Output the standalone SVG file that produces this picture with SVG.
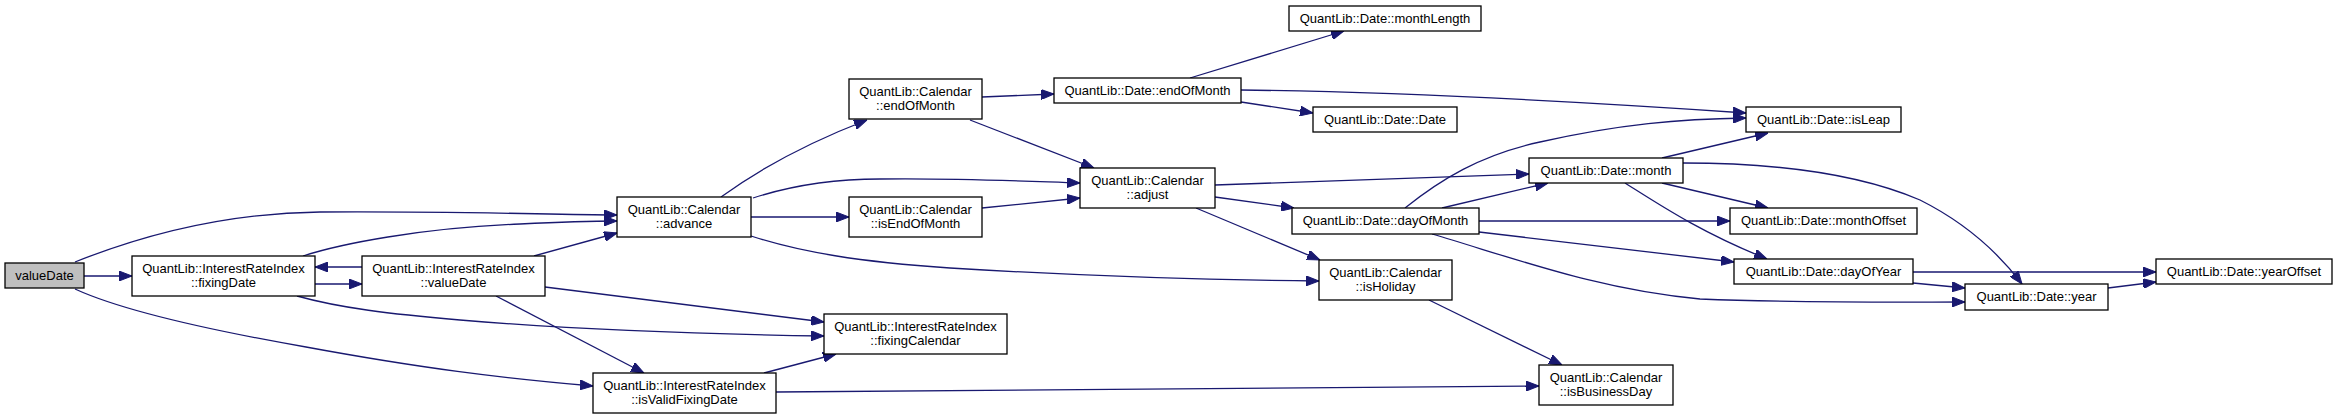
<svg xmlns="http://www.w3.org/2000/svg" width="2337" height="419" viewBox="0 0 2337 419">
<style>
.n rect{fill:#ffffff;stroke:#000000;stroke-width:1.3}
.n.root rect{fill:#bfbfbf}
.n text{font-family:"Liberation Sans",Arial,sans-serif;font-size:13px;fill:#000000;text-anchor:middle}
.e path{fill:none;stroke:#191970;stroke-width:1.3;marker-end:url(#ah)}
</style>
<defs>
<marker id="ah" viewBox="0 0 13 10" refX="13" refY="5" markerWidth="13" markerHeight="10" markerUnits="userSpaceOnUse" orient="auto">
<path d="M0,0 L13,5 L0,10 z" fill="#191970" stroke="#191970" stroke-width="1"/>
</marker>
</defs>
<rect width="2337" height="419" fill="#ffffff"/>
<g id="edges" class="e">
<path d="M84,276 L132,276"/>
<path d="M75,262 C120,244 210,213 320,212 C430,211 530,214 617,215"/>
<path d="M303,256 C340,244 420,228 520,224 C560,222 590,221 617,221"/>
<path d="M534,256 L617,233"/>
<path d="M315,284 L362,284"/>
<path d="M362,267 L315,267"/>
<path d="M297,296 C340,308 390,314 460,320 C580,330 700,334 824,336"/>
<path d="M545,287 L824,322"/>
<path d="M496,296 L644,373"/>
<path d="M75,289 C110,305 180,325 306,347 C420,368 500,378 593,386"/>
<path d="M764,373 L836,354"/>
<path d="M776,392 L1539,386"/>
<path d="M721,197 C765,165 815,140 867,120"/>
<path d="M753,198 C790,186 830,179 880,179 C960,178 1020,181 1080,183"/>
<path d="M751,217 L849,217"/>
<path d="M751,236 C800,252 860,262 950,268 C1100,277 1200,280 1319,281"/>
<path d="M982,97 L1054,94"/>
<path d="M970,120 L1094,168"/>
<path d="M982,208 L1080,198"/>
<path d="M1190,78 L1344,31"/>
<path d="M1241,102 L1313,113"/>
<path d="M1241,90 C1400,92 1600,103 1746,113"/>
<path d="M1215,185 L1529,174"/>
<path d="M1215,197 L1294,208"/>
<path d="M1196,208 L1320,260"/>
<path d="M1405,208 C1440,180 1480,155 1540,142 C1620,124 1680,119 1746,118"/>
<path d="M1442,208 L1548,183"/>
<path d="M1479,221 L1730,221"/>
<path d="M1479,232 L1734,262"/>
<path d="M1432,234 C1520,260 1600,290 1700,299 C1800,303 1900,302 1965,302"/>
<path d="M1662,158 L1768,133"/>
<path d="M1662,183 L1768,208"/>
<path d="M1625,183 C1660,205 1700,232 1767,259"/>
<path d="M1683,163 C1760,163 1850,170 1920,200 C1970,225 2000,255 2022,284"/>
<path d="M1913,272 L2156,272"/>
<path d="M1913,283 L1965,288"/>
<path d="M2108,288 L2156,282"/>
<path d="M1429,300 L1562,365"/>
</g>
<g id="node_valueDate" class="n root"><rect x="5" y="263" width="79" height="25"/><text x="44.5" y="280">valueDate</text></g>
<g id="node_fixingDate" class="n"><rect x="132" y="256" width="183" height="40"/><text x="223.5" y="273">QuantLib::InterestRateIndex</text><text x="223.5" y="287">::fixingDate</text></g>
<g id="node_iri_valueDate" class="n"><rect x="362" y="256" width="183" height="40"/><text x="453.5" y="273">QuantLib::InterestRateIndex</text><text x="453.5" y="287">::valueDate</text></g>
<g id="node_advance" class="n"><rect x="617" y="197" width="134" height="40"/><text x="684" y="214">QuantLib::Calendar</text><text x="684" y="228">::advance</text></g>
<g id="node_cal_endOfMonth" class="n"><rect x="849" y="79" width="133" height="40"/><text x="915.5" y="96">QuantLib::Calendar</text><text x="915.5" y="110">::endOfMonth</text></g>
<g id="node_isEndOfMonth" class="n"><rect x="849" y="197" width="133" height="40"/><text x="915.5" y="214">QuantLib::Calendar</text><text x="915.5" y="228">::isEndOfMonth</text></g>
<g id="node_fixingCalendar" class="n"><rect x="824" y="314" width="183" height="40"/><text x="915.5" y="331">QuantLib::InterestRateIndex</text><text x="915.5" y="345">::fixingCalendar</text></g>
<g id="node_isValidFixingDate" class="n"><rect x="593" y="373" width="183" height="40"/><text x="684.5" y="390">QuantLib::InterestRateIndex</text><text x="684.5" y="404">::isValidFixingDate</text></g>
<g id="node_date_endOfMonth" class="n"><rect x="1054" y="78" width="187" height="25"/><text x="1147.5" y="95">QuantLib::Date::endOfMonth</text></g>
<g id="node_monthLength" class="n"><rect x="1289" y="6" width="192" height="25"/><text x="1385" y="23">QuantLib::Date::monthLength</text></g>
<g id="node_date_Date" class="n"><rect x="1313" y="107" width="144" height="25"/><text x="1385" y="124">QuantLib::Date::Date</text></g>
<g id="node_adjust" class="n"><rect x="1080" y="168" width="135" height="40"/><text x="1147.5" y="185">QuantLib::Calendar</text><text x="1147.5" y="199">::adjust</text></g>
<g id="node_dayOfMonth" class="n"><rect x="1292" y="208" width="187" height="26"/><text x="1385.5" y="225">QuantLib::Date::dayOfMonth</text></g>
<g id="node_isHoliday" class="n"><rect x="1319" y="260" width="133" height="40"/><text x="1385.5" y="277">QuantLib::Calendar</text><text x="1385.5" y="291">::isHoliday</text></g>
<g id="node_isBusinessDay" class="n"><rect x="1539" y="365" width="134" height="40"/><text x="1606" y="382">QuantLib::Calendar</text><text x="1606" y="396">::isBusinessDay</text></g>
<g id="node_month" class="n"><rect x="1529" y="158" width="154" height="25"/><text x="1606" y="175">QuantLib::Date::month</text></g>
<g id="node_isLeap" class="n"><rect x="1746" y="107" width="155" height="25"/><text x="1823.5" y="124">QuantLib::Date::isLeap</text></g>
<g id="node_monthOffset" class="n"><rect x="1730" y="208" width="187" height="26"/><text x="1823.5" y="225">QuantLib::Date::monthOffset</text></g>
<g id="node_dayOfYear" class="n"><rect x="1734" y="259" width="179" height="25"/><text x="1823.5" y="276">QuantLib::Date::dayOfYear</text></g>
<g id="node_year" class="n"><rect x="1965" y="284" width="143" height="26"/><text x="2036.5" y="301">QuantLib::Date::year</text></g>
<g id="node_yearOffset" class="n"><rect x="2156" y="259" width="176" height="25"/><text x="2244" y="276">QuantLib::Date::yearOffset</text></g>
</svg>
